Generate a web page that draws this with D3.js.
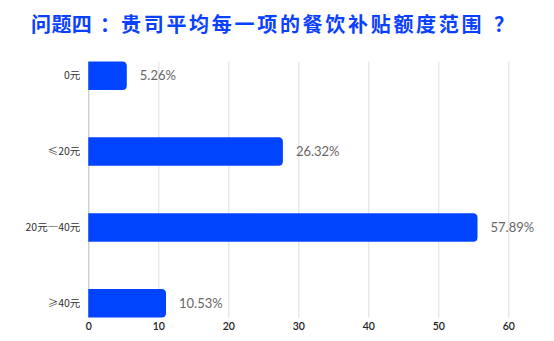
<!DOCTYPE html>
<html lang="zh-CN">
<head>
<meta charset="utf-8">
<script src="https://cdn.jsdelivr.net/npm/d3@7"></script>
<style>
  body { margin: 0; background: #fff; }
  svg { display: block; }
</style>
</head>
<body>
<script>
// categories, bar lengths and the printed labels
var categories = ["0元", "≤20元", "20元—40元", "≥40元"];
var barValues = [5.5, 27.8, 55.6, 11.1];
var valueLabels = ["5.26%", "26.32%", "57.89%", "10.53%"];
var xTicks = [0, 10, 20, 30, 40, 50, 60];
var titleParts = ["问题四", "：", "贵司平均每一项的餐饮补贴额度范围", "？"];

var W = 554, H = 341;
var margin = {top: 61.5, right: 46, bottom: 23.5, left: 88.3};

var svg = d3.select("body").append("svg")
    .attr("width", W)
    .attr("height", H);

// title: the pieces sit at their own x so the punctuation keeps its wide gaps
var titleX = [31, 100, 121, 494];
var titleSpacing = [0.4, 0, 2.7, 0];
var title = svg.append("text")
    .attr("y", 32)
    .attr("fill", "#0a40ff")
    .style("font", "bold 20px 'Noto Sans CJK SC'");
title.selectAll("tspan")
    .data(titleParts)
    .enter().append("tspan")
    .attr("x", function(d, i) { return titleX[i]; })
    .style("letter-spacing", function(d, i) { return titleSpacing[i] + "px"; })
    .text(function(d) { return d; });

var x = d3.scaleLinear().domain([0, 60]).range([margin.left, margin.left + 420]);
var y = d3.scaleBand().domain(categories)
    .range([margin.top, H - margin.bottom])
    .paddingInner(0.626)
    .paddingOuter(0);

// grid lines
svg.append("g").selectAll("line")
    .data(xTicks)
    .enter().append("line")
    .attr("x1", function(d) { return x(d) + 0.5; })
    .attr("x2", function(d) { return x(d) + 0.5; })
    .attr("y1", margin.top)
    .attr("y2", H - margin.bottom)
    .attr("stroke", function(d) { return d === 0 ? "#bbb" : "#ddd"; })
    .attr("stroke-width", 1);

// x axis labels
var xAxis = d3.axisBottom(x).tickValues(xTicks).tickSize(0).tickPadding(5);
var gx = svg.append("g")
    .attr("transform", "translate(0," + (H - margin.bottom) + ")")
    .call(xAxis);
gx.select(".domain").remove();
gx.selectAll("text")
    .attr("fill", "#222")
    .style("font", "600 10.5px 'Lato', sans-serif");

// y axis labels
var yAxis = d3.axisLeft(y).tickSize(0).tickPadding(8);
var gy = svg.append("g")
    .attr("transform", "translate(" + margin.left + ",0)")
    .call(yAxis);
gy.select(".domain").remove();
gy.selectAll("text")
    .attr("fill", "#333")
    .style("font", "10.5px 'Noto Sans CJK SC'");

// bars with rounded right end
function barPath(d, i) {
    var x0 = x(0), x1 = x(d), y0 = y(categories[i]), h = y.bandwidth(), r = 4.5;
    return "M" + x0 + "," + y0 +
        "H" + (x1 - r) +
        "Q" + x1 + "," + y0 + " " + x1 + "," + (y0 + r) +
        "V" + (y0 + h - r) +
        "Q" + x1 + "," + (y0 + h) + " " + (x1 - r) + "," + (y0 + h) +
        "H" + x0 + "Z";
}

svg.append("g").selectAll("path")
    .data(barValues)
    .enter().append("path")
    .attr("d", barPath)
    .attr("fill", "#0044ff");

// value labels
svg.append("g").selectAll("text")
    .data(barValues)
    .enter().append("text")
    .attr("x", function(d) { return x(d) + 13; })
    .attr("y", function(d, i) { return y(categories[i]) + y.bandwidth() / 2; })
    .attr("dy", "0.35em")
    .attr("fill", "#666")
    .style("font", "13px 'Lato', sans-serif")
    .text(function(d, i) { return valueLabels[i]; });
</script>
</body>
</html>
